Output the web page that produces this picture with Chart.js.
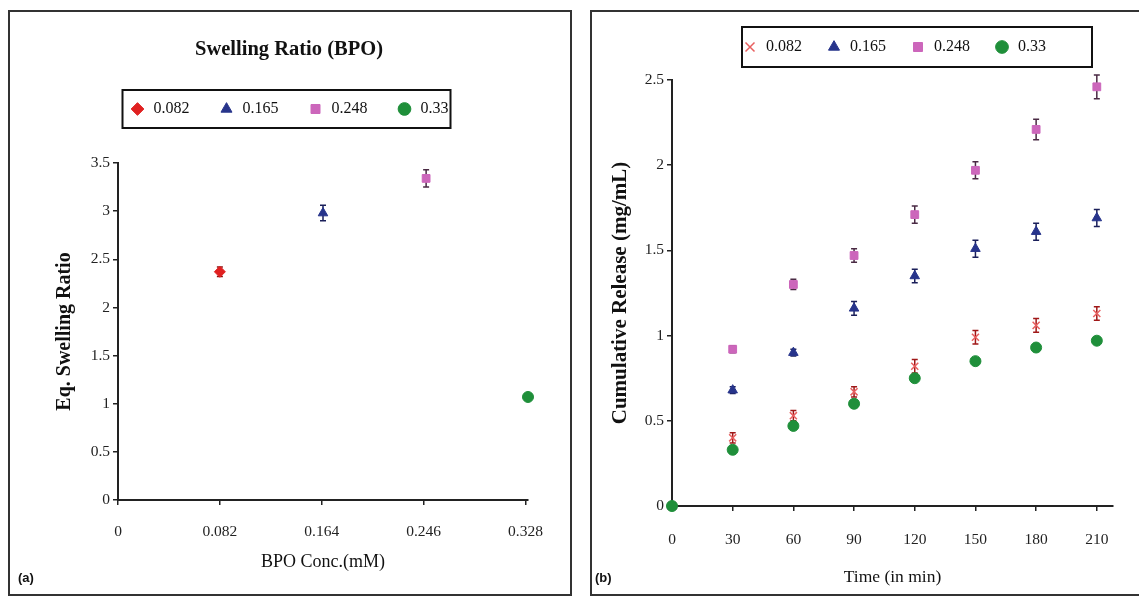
<!DOCTYPE html>
<html>
<head>
<meta charset="utf-8">
<script src="https://cdn.jsdelivr.net/npm/chart.js@4"></script>
<style>
  html, body { margin: 0; padding: 0; background: #fff; width: 1139px; height: 596px; overflow: hidden; position: relative; }
  .panel { position: absolute; top: 10px; height: 586px; border: 2px solid #333; box-sizing: border-box; overflow: hidden; background: #fff; }
  #panelA { left: 8px; width: 564px; }
  #panelB { left: 590px; width: 700px; }
  .panel canvas { position: absolute; left: 0; top: 0; }
  .tag { position: absolute; top: 570px; font: bold 13px "Liberation Sans", Arial, sans-serif; color: #111; }
</style>
</head>
<body>
<div class="panel" id="panelA"><canvas id="swellChart" width="560" height="580"></canvas></div>
<div class="panel" id="panelB"><canvas id="releaseChart" width="604" height="580"></canvas></div>
<div class="tag" style="left:18px">(a)</div>
<div class="tag" style="left:595px">(b)</div>

<script>
// (a) swelling ratio vs BPO concentration
const concLabels = ["0.082", "0.165", "0.248", "0.33"];
const concX = [0.082, 0.165, 0.248, 0.33];
const swelling = [2.37, 2.98, 3.34, 1.07];
const swellingErr = [0.05, 0.08, 0.09, 0.03];
const concTicks = [0, 0.082, 0.164, 0.246, 0.328];

// (b) cumulative release over time
const times = [0, 30, 60, 90, 120, 150, 180, 210];
const rel082 = [0, 0.40, 0.53, 0.67, 0.82, 0.99, 1.06, 1.13];
const rel165 = [0, 0.68, 0.90, 1.16, 1.35, 1.51, 1.61, 1.69];
const rel248 = [0, 0.92, 1.30, 1.47, 1.71, 1.97, 2.21, 2.46];
const rel33 = [0, 0.33, 0.47, 0.60, 0.75, 0.85, 0.93, 0.97];
const err082 = [0, 0.03, 0.03, 0.03, 0.04, 0.04, 0.04, 0.04];
const err165 = [0, 0.02, 0.02, 0.04, 0.04, 0.05, 0.05, 0.05];
const err248 = [0, 0.02, 0.03, 0.04, 0.05, 0.05, 0.06, 0.07];
const err33 = [0, 0.02, 0.02, 0.02, 0.02, 0.02, 0.02, 0.02];
const timeTicks = [0, 30, 60, 90, 120, 150, 180, 210];

const SERIF = "'Liberation Serif', 'Times New Roman', serif";
Chart.defaults.font.family = SERIF;
Chart.defaults.color = "#222";

const plainNum = (v) => String(+Number(v).toFixed(3));

// error bars drawn under the markers
const errorBars = {
  id: "errorBars",
  beforeDatasetsDraw(chart) {
    const { ctx, scales: { x, y } } = chart;
    ctx.save();
    ctx.lineWidth = 1.5;
    chart.data.datasets.forEach((ds) => {
      if (!ds.errors) return;
      ctx.strokeStyle = ds.errorColor;
      ds.data.forEach((p, i) => {
        const e = ds.errors[i];
        if (!e) return;
        const px = x.getPixelForValue(p.x);
        const top = y.getPixelForValue(p.y + e);
        const bot = y.getPixelForValue(p.y - e);
        ctx.beginPath();
        ctx.moveTo(px, top); ctx.lineTo(px, bot);
        ctx.moveTo(px - 3, top); ctx.lineTo(px + 3, top);
        ctx.moveTo(px - 3, bot); ctx.lineTo(px + 3, bot);
        ctx.stroke();
      });
    });
    ctx.restore();
  },
};

// black frame round the legend
const legendFrame = {
  id: "legendFrame",
  afterDraw(chart, args, opts) {
    const boxes = chart.legend && chart.legend.legendHitBoxes;
    if (!boxes || !boxes.length) return;
    const first = boxes[0], last = boxes[boxes.length - 1];
    const cy = first.top + first.height / 2;
    const left = first.left + opts.padLeft;
    const right = last.left + last.width + opts.padRight;
    const ctx = chart.ctx;
    ctx.save();
    ctx.strokeStyle = "#111";
    ctx.lineWidth = 2;
    ctx.strokeRect(left, cy - opts.half, right - left, opts.half * 2);
    ctx.restore();
  },
};

function axis(extra) {
  return Object.assign({
    grid: { display: true, drawOnChartArea: false, drawTicks: true, tickLength: 5, color: "#222", lineWidth: 1.5 },
    border: { display: true, color: "#222", width: 2 },
  }, extra);
}

function legendOpts(pad) {
  return {
    display: true,
    position: "top",
    weight: 1800,
    labels: {
      usePointStyle: true,
      boxWidth: 16,
      boxHeight: 9,
      padding: pad,
      color: "#111",
      font: { family: SERIF, size: 16 },
      sort: (a, b) => a.datasetIndex - b.datasetIndex,
    },
  };
}

// chart (a)
const swellColors = ["#e02020", "#27348b", "#cc66bb", "#1f8f3a"];
const swellErrColors = ["#8b1010", "#1a1f5a", "#4a2a44", "#1f5f2a"];
const swellStyles = ["rectRot", "triangle", "rect", "circle"];

new Chart(document.getElementById("swellChart"), {
  type: "scatter",
  data: {
    datasets: concLabels.map((lab, i) => ({
      label: lab,
      data: [{ x: concX[i], y: swelling[i] }],
      errors: [swellingErr[i]],
      errorColor: swellErrColors[i],
      pointStyle: swellStyles[i],
      pointRadius: swellStyles[i] === "rect" ? 5.5 : 5.5,
      backgroundColor: swellColors[i],
      borderColor: swellColors[i],
      borderWidth: 1,
      clip: false,
    })),
  },
  options: {
    responsive: false,
    animation: false,
    layout: { padding: { left: 40, right: 42, top: 10, bottom: 19.2 } },
    plugins: {
      title: {
        display: true,
        text: "Swelling Ratio (BPO)",
        color: "#111",
        font: { family: SERIF, size: 20.5, weight: "bold", lineHeight: 1 },
        padding: { top: 17.75, bottom: 11.75 },
      },
      subtitle: { display: true, text: "", font: { size: 1 }, padding: { top: 0, bottom: 34.8 } },
      legend: legendOpts(29),
      legendFrame: { padLeft: -7, padRight: 2, half: 19 },
      tooltip: { enabled: false },
    },
    scales: {
      x: axis({
        type: "linear",
        min: 0,
        max: 0.33,
        afterBuildTicks: (s) => { s.ticks = concTicks.map((v) => ({ value: v })); },
        afterFit: (s) => { s.height = 72.8; },
        ticks: { padding: 18, font: { size: 15.5 }, color: "#222", callback: plainNum },
        title: { display: true, text: "BPO Conc.(mM)", color: "#111", font: { size: 18 }, padding: { top: 0, bottom: 0 } },
      }),
      y: axis({
        min: 0,
        max: 3.5,
        afterFit: (s) => { s.width = 68; },
        ticks: { stepSize: 0.5, padding: 3, font: { size: 15.5 }, color: "#222", callback: plainNum },
        title: { display: true, text: "Eq. Swelling Ratio", color: "#111", font: { size: 20, weight: "bold" }, padding: { top: 3, bottom: 0 } },
      }),
    },
  },
  plugins: [errorBars, legendFrame],
});

// chart (b)
const relSeries = [
  { label: "0.082", values: rel082, errors: err082, style: "crossRot", color: "#e86060", errColor: "#a01818", radius: 5, order: 2 },
  { label: "0.165", values: rel165, errors: err165, style: "triangle", color: "#27348b", errColor: "#1a1f5a", radius: 5.5, order: 3 },
  { label: "0.248", values: rel248, errors: err248, style: "rect", color: "#cc66bb", errColor: "#4a2a44", radius: 5.5, order: 4 },
  { label: "0.33", values: rel33, errors: err33, style: "circle", color: "#1f8f3a", errColor: "#1f5f2a", radius: 5.5, order: 1 },
];

new Chart(document.getElementById("releaseChart"), {
  type: "scatter",
  data: {
    datasets: relSeries.map((s) => ({
      label: s.label,
      data: times.map((t, i) => ({ x: t, y: s.values[i] })),
      errors: s.errors,
      errorColor: s.errColor,
      order: s.order,
      pointStyle: s.style,
      pointRadius: s.radius,
      backgroundColor: s.color,
      borderColor: s.color,
      borderWidth: s.style === "crossRot" ? 1.5 : 1,
      clip: false,
    })),
  },
  options: {
    responsive: false,
    animation: false,
    layout: { padding: { left: 10, right: 10, top: 3, bottom: 4.5 } },
    plugins: {
      subtitle: { display: true, text: "", font: { size: 1 }, padding: { top: 0, bottom: 13.8 } },
      legend: legendOpts(24),
      legendFrame: { padLeft: 0, padRight: 46, half: 20 },
      tooltip: { enabled: false },
    },
    scales: {
      x: axis({
        type: "linear",
        min: 0,
        max: 218,
        afterBuildTicks: (s) => { s.ticks = timeTicks.map((v) => ({ value: v })); },
        afterFit: (s) => { s.height = 81.5; },
        ticks: { padding: 20, font: { size: 15.5 }, color: "#222", callback: plainNum },
        title: { display: true, text: "Time (in min)", color: "#111", font: { size: 17.5 }, padding: { top: 0, bottom: 0 } },
      }),
      y: axis({
        min: 0,
        max: 2.5,
        afterFit: (s) => { s.width = 70; },
        ticks: { stepSize: 0.5, padding: 3, font: { size: 15.5 }, color: "#222", callback: plainNum },
        title: { display: true, text: "Cumulative Release (mg/mL)", color: "#111", font: { size: 21, weight: "bold" }, padding: { top: 6.4, bottom: 0 } },
      }),
      // empty right-hand gutter, keeps the legend centred where the original has it
      gutter: {
        type: "linear",
        position: "right",
        display: true,
        grid: { display: false },
        border: { display: false },
        ticks: { display: false },
        afterFit: (s) => { s.width = 73; },
      },
    },
  },
  plugins: [errorBars, legendFrame],
});
</script>
</body>
</html>
